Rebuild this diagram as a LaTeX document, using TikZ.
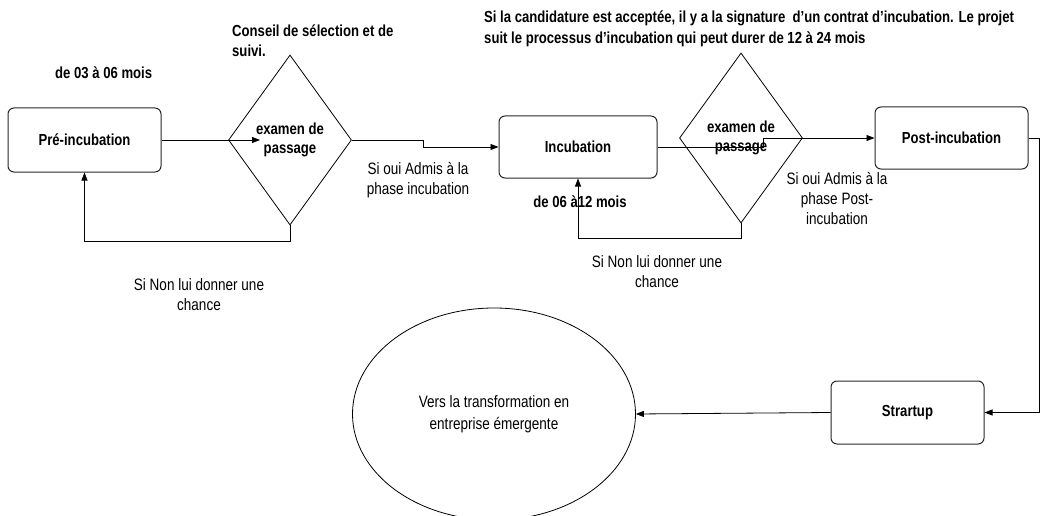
\documentclass[tikz,border=0pt]{standalone}
\usepackage{fontspec}
\setmainfont{Liberation Sans}[FakeStretch=0.82]
\usetikzlibrary{shapes.geometric,arrows.meta}
\begin{document}
\begin{tikzpicture}[x=1pt,y=-1pt]
\tikzset{
 box/.style={draw=black!85, line width=1pt, rounded corners=6pt, inner sep=0pt, font=\bfseries\fontsize{16}{19}\selectfont},
 dia/.style={draw, diamond, line width=0.8pt, inner sep=0pt, minimum width=123pt, minimum height=170pt, align=center, font=\bfseries\fontsize{16}{19}\selectfont},
 lbl/.style={align=center, font=\fontsize{16.5}{20}\selectfont, inner sep=0pt},
 blbl/.style={align=left, font=\bfseries\fontsize{16}{20}\selectfont, inner sep=0pt},
 conn/.style={line width=0.8pt, -{Triangle[length=8pt,width=6pt]}}
}
\useasboundingbox (0,0) rectangle (1041,516);
% nodes
\node[box, minimum width=153pt, minimum height=64pt] (pre) at (84.5,140) {Pré-incubation};
\node[dia] (d1) at (290,140) {examen de\\passage};
\node[box, minimum width=158pt, minimum height=62pt] (inc) at (578,147) {Incubation};
\node[dia] (d2) at (741,138) {examen de\\passage};
\node[box, minimum width=153pt, minimum height=62pt] (post) at (951.5,138) {Post-incubation};
\node[box, minimum width=153pt, minimum height=63pt] (st) at (907.5,412.5) {Strartup};
\node[draw, ellipse, line width=0.8pt, minimum width=283pt, minimum height=212pt, inner sep=0pt, lbl, font=\fontsize{16.5}{22}\selectfont] (ell) at (494,414) {Vers la transformation en\\entreprise émergente};
% labels
\node[blbl, anchor=west] (t1) at (55,73) {de 03 à 06 mois};
\node[blbl, anchor=west] (t2) at (232,41) {Conseil de sélection et de\\suivi.};
\node[blbl, anchor=west, font=\bfseries\fontsize{16}{21.5}\selectfont] (t3) at (484,29) {Si la candidature est acceptée, il y a la signature \ d{\char"27}un contrat d’incubation. Le projet\\suit le processus d’incubation qui peut durer de 12 à 24 mois};
\node[blbl, anchor=center] (t4) at (580,202) {de 06 à12 mois};
\node[lbl] (l1) at (418,180.5) {Si oui Admis à la\\phase incubation};
\node[lbl] (l2) at (199,295) {Si Non lui donner une\\chance};
\node[lbl] (l3) at (837,198.5) {Si oui Admis à la\\phase Post-\\incubation};
\node[lbl] (l4) at (657,272) {Si Non lui donner une\\chance};
% connectors
\coordinate (c1) at (260,140);
\draw[conn] (pre.east) -- (c1);
\draw[conn] (d1.south) -- ++(0,16) -| (pre.south);
\draw[conn] (d1.east) -- (423,140) |- (inc.west);
\draw[conn] (inc.east) -- (763,147) |- (post.west);
\draw[conn] (d2.south) -- ++(0,15) -| (inc.south);
\draw[conn] (post.east) -- ++(11,0) |- (st.east);
\draw[conn] (st.west) -- (ell.east);
\end{tikzpicture}
\end{document}
